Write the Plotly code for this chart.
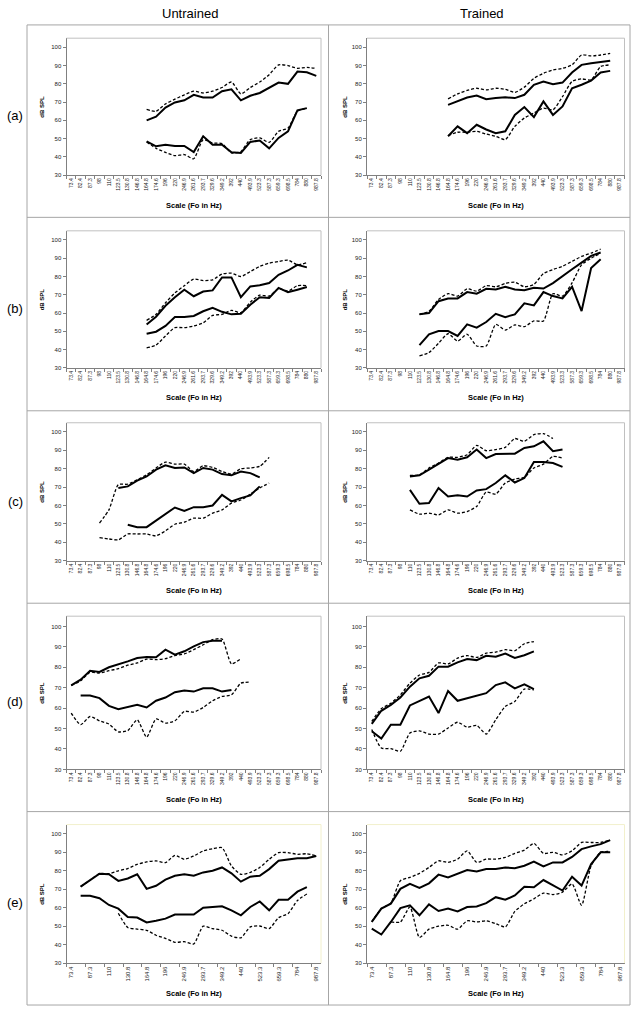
import plotly.graph_objects as go

FREQS = ["73.4", "82.4", "87.3", "98", "110", "123.5", "130.8", "146.8", "164.8",
         "174.6", "196", "220", "246.9", "261.6", "293.7", "329.6", "349.2", "392",
         "440", "493.9", "523.3", "587.3", "659.3", "698.5", "784", "880", "987.8"]

# each series: (first frequency sung, dB SPL values from there on)
# (a)
a_u_hi_solid = ("164.8", [60, 62, 67, 69.8, 71, 74, 72.5, 72.5, 76, 77, 71, 73.5, 75, 78, 80.7, 80, 86.7, 86.3, 84.4])
a_u_hi_dash = ("164.8", [66, 65, 69, 71.6, 74, 76, 75, 76, 78, 81, 74.5, 78, 81, 85, 90.4, 90, 88.5, 89, 88.5])
a_u_lo_solid = ("164.8", [48.5, 45.8, 46.7, 46, 46, 42.7, 51.3, 46.7, 46.7, 42.5, 42.2, 48.2, 49, 44.7, 50.4, 54, 65.5, 66.7])
a_u_lo_dash = ("164.8", [48.2, 44.7, 42.5, 40.7, 41.3, 39, 49.5, 47.6, 47.3, 42.2, 43, 49.5, 50.4, 48, 54, 55.8, 65, 66.7])
a_t_hi_solid = ("164.8", [68.5, 70.4, 72.5, 73.6, 71.6, 72.2, 72.7, 72.2, 74, 79.5, 81.3, 79.8, 80.7, 86.2, 90.4, 91.3, 92.2, 92.7])
a_t_hi_dash = ("164.8", [71.8, 74.5, 76.4, 77.6, 76.7, 77.6, 77, 75.3, 78.2, 83, 85.8, 87.6, 88.5, 90.4, 95.8, 95.3, 95.8, 96.7])
a_t_lo_solid = ("164.8", [51.3, 56.7, 53, 57.6, 55, 53, 54, 63, 67.3, 61.8, 70.4, 63, 67.6, 77.6, 79.5, 81.8, 86.2, 87.1])
a_t_lo_dash = ("164.8", [51.6, 53.5, 53.5, 54, 52.5, 51.3, 49.5, 56.7, 61.3, 64, 66.7, 65.8, 73, 81.3, 82.7, 82.2, 89.5, 90.4])
# (b)
b_u_hi_solid = ("164.8", [53.8, 58, 64, 68.7, 72.8, 69.2, 71.8, 72.4, 79.5, 79.5, 68.7, 74.6, 75.2, 76.4, 80.9, 83.3, 86.4, 85])
b_u_hi_dash = ("164.8", [56, 59.3, 65.6, 71, 75, 78.6, 77.8, 78.2, 81.4, 81.8, 80, 82.7, 85.5, 87.3, 88.2, 89, 86.4, 87.6])
b_u_lo_solid = ("164.8", [48.7, 49.8, 53, 57.8, 57.8, 58.4, 61, 62.9, 60.7, 59.3, 59.6, 64.6, 68.7, 68.3, 73.8, 71.4, 72.8, 74.3])
b_u_lo_dash = ("164.8", [41, 42.5, 47.5, 52, 52, 52.9, 54.7, 58.7, 59.3, 61.5, 60.2, 66, 69.8, 69.3, 73.3, 72, 75, 75])
b_t_hi_solid = ("123.5", [59.3, 60, 66.5, 68, 68, 71.5, 70.6, 73.3, 72.9, 74.4, 72.9, 72.5, 73.8, 73.4, 76.4, 80.4, 84, 87.6, 91.3, 93.1])
b_t_hi_dash = ("123.5", [59.3, 61, 67.4, 70.6, 69.3, 73.3, 72, 75, 74.4, 76.2, 76.9, 74.4, 75.7, 81.6, 83.8, 85.6, 88.3, 91, 92.8, 95])
b_t_lo_solid = ("123.5", [42.5, 48.4, 50.2, 50.2, 47.5, 53.8, 52, 55.1, 59.6, 57.8, 59.3, 65.3, 64.2, 71.5, 69.3, 68, 74.4, 61.1, 84.6, 89.4])
b_t_lo_dash = ("123.5", [36.6, 38.4, 43.5, 48.7, 44.7, 48.4, 42, 42, 53.8, 50.7, 53.5, 52.6, 55.7, 55.7, 70.6, 69.3, 76.5, 86.4, 90, 92.7])
# (c)
c_u_hi_solid = ("123.5", [69.5, 70.4, 73.5, 75.8, 79.5, 81.8, 80.4, 80.7, 77.6, 80.4, 79.5, 77.1, 76.4, 78.5, 77.6, 75.3])
c_u_hi_dash = ("98", [50.4, 57.6, 71.3, 71.6, 74, 76.7, 80.4, 83.6, 82.5, 82.5, 78.5, 81.6, 80.7, 78.5, 77.1, 80, 80.4, 81.3, 86.2])
c_u_lo_solid = ("130.8", [49.5, 48.2, 48.2, 51.8, 55.3, 58.9, 57.1, 59.1, 59.1, 60, 65.8, 62.2, 64, 65.5, 70.4])
c_u_lo_dash = ("98", [42.5, 41.8, 41.3, 44.5, 44.5, 44.5, 43.5, 46.2, 49.8, 50.9, 53.1, 53.1, 55.8, 57.6, 61.3, 63, 66.2, 69.5, 72.2])
c_t_hi_solid = ("110", [75.8, 76.4, 79.5, 82.5, 85.8, 84.9, 86.2, 90.4, 85.8, 88, 88, 88.2, 91.3, 92.2, 94.9, 89.5, 90.4])
c_t_hi_dash = ("110", [76.4, 76.7, 80.4, 83.1, 86.2, 86.2, 87.6, 92.7, 89.8, 90.4, 91.6, 96.4, 94.9, 98.5, 99.1, 96.4])
c_t_lo_solid = ("110", [68.5, 60.9, 61.3, 69.5, 64.9, 65.5, 64.9, 68.2, 68.9, 72.2, 76.4, 72.5, 74.9, 83.6, 83.6, 83.1, 81])
c_t_lo_dash = ("110", [57.6, 55.3, 55.8, 54.9, 57.6, 55.8, 56.7, 59.5, 67.3, 66.2, 72.2, 74.4, 75.3, 80.4, 82.5, 86.7, 85.8])
# (d)
d_u_hi_solid = ("73.4", [71.1, 73.9, 78.3, 77.7, 80, 81.3, 82.9, 84.5, 85, 84.9, 88.6, 86.2, 87.8, 90.2, 92.3, 93, 93])
d_u_hi_dash = ("73.4", [71.1, 73.4, 77.5, 77.2, 78.3, 79.3, 81, 82.1, 84, 83.7, 84.2, 85.7, 86.5, 88.6, 91, 93.5, 93.8, 81.7, 84.2])
d_u_lo_solid = ("82.4", [66.2, 66.2, 64.9, 61.1, 59.5, 60.5, 61.6, 60.3, 63.6, 65.2, 67.8, 68.6, 68.1, 69.7, 69.7, 68.1, 68.9])
d_u_lo_dash = ("73.4", [57.6, 51.9, 55.9, 53.8, 52.2, 48.4, 49, 54.3, 45.8, 54.7, 52.7, 53.8, 58.4, 58.1, 60.3, 63.6, 65.7, 66.5, 72.2, 72.7])
d_t_hi_solid = ("73.4", [52.3, 58.7, 61.6, 65.2, 70.5, 74.6, 75.8, 80.3, 80.3, 82.4, 84, 83.5, 85.6, 85.2, 86.7, 84.6, 85.9, 87.8])
d_t_hi_dash = ("73.4", [53.5, 59.7, 62.4, 66.5, 72.2, 76.2, 77.5, 82.1, 81.6, 84.5, 85.7, 84.8, 86.9, 87.4, 88.6, 88.1, 91.5, 92.6])
d_t_lo_solid = ("73.4", [48.7, 45.1, 51.9, 51.9, 61.3, 63.6, 65.7, 57.6, 68.4, 63.6, 64.9, 66.2, 67.3, 71.3, 72.6, 69.7, 71.6, 69.3])
d_t_lo_dash = ("73.4", [49.5, 40.5, 40.2, 38.9, 47.8, 48.9, 47.3, 47.3, 50.3, 53.1, 50.7, 51.5, 47.3, 54.3, 60.8, 63.3, 69.3, 68.9])
# (e)
e_u_hi_solid = ("82.4", [71.4, 74.9, 78.4, 78.1, 74.5, 75.8, 78.1, 70.2, 71.9, 75.2, 77.3, 78.1, 77.3, 79.1, 80, 81.8, 78.6, 74.1, 76.8, 77.3, 80.9, 85.4, 86.2, 86.8, 86.8, 88])
e_u_hi_dash = ("82.4", [71.4, 74.9, 78.4, 78.4, 80, 81.2, 83.5, 84.8, 85.3, 84.4, 88.3, 86.2, 88, 90.7, 91.9, 92.5, 82.6, 78.1, 79.1, 81.8, 86.2, 89.8, 89.8, 88.9, 89.2, 88])
e_u_lo_solid = ("82.4", [66.5, 66.5, 65.1, 61.5, 59.5, 55, 54.7, 52, 52.9, 54.1, 56.3, 56.3, 56.3, 60, 60.4, 60.8, 58.6, 55.9, 60.4, 63.4, 58.6, 64.3, 64.3, 68.7, 71.1])
e_u_lo_dash = ("123.5", [57, 49.3, 48.4, 47.8, 45.1, 43.4, 41.3, 41.6, 40.4, 50, 48.7, 47.8, 44.6, 43.7, 49.6, 50.1, 48.7, 54.6, 56.8, 63.9, 67.4])
e_t_hi_solid = ("73.4", [52.3, 59.5, 62.2, 70.2, 72.9, 70.7, 73.2, 77.9, 76.4, 78.2, 80.4, 79.6, 80.9, 80.9, 81.8, 81.4, 82.7, 84.9, 82.3, 84.5, 84.5, 87.5, 91.7, 93.2, 94.4, 96.6])
e_t_hi_dash = ("73.4", [52.3, 59.5, 62.5, 74.6, 76.4, 78.6, 81.8, 85.4, 84.5, 86.3, 90.8, 84.5, 86.3, 86.3, 87.2, 89.4, 91.2, 94.8, 89.4, 90, 88.6, 90.8, 95.3, 95.3, 95.3, 96.6])
e_t_lo_solid = ("73.4", [48.7, 45.5, 52.3, 59.8, 61.3, 55.9, 61.8, 58.2, 59.5, 58, 60.4, 60.7, 62.5, 65.7, 64.3, 66.6, 71.4, 71.1, 75, 72, 69.3, 76.8, 72, 83.6, 90, 90])
e_t_lo_dash = ("87.3", [52.3, 52.3, 60.4, 43.9, 48.4, 50, 50.5, 48.4, 52.9, 52.3, 52.9, 51.4, 49.6, 58, 62.1, 64.8, 67.9, 67.1, 68.4, 72.9, 61.3, 82.7, 90, 90.4])

ROW_LABELS = ["(a)", "(b)", "(c)", "(d)", "(e)"]
COL_TITLES = ["Untrained", "Trained"]

PANELS = [
    [(a_u_hi_dash, a_u_lo_dash, a_u_hi_solid, a_u_lo_solid), (a_t_hi_dash, a_t_lo_dash, a_t_hi_solid, a_t_lo_solid)],
    [(b_u_hi_dash, b_u_lo_dash, b_u_hi_solid, b_u_lo_solid), (b_t_hi_dash, b_t_lo_dash, b_t_hi_solid, b_t_lo_solid)],
    [(c_u_hi_dash, c_u_lo_dash, c_u_hi_solid, c_u_lo_solid), (c_t_hi_dash, c_t_lo_dash, c_t_hi_solid, c_t_lo_solid)],
    [(d_u_hi_dash, d_u_lo_dash, d_u_hi_solid, d_u_lo_solid), (d_t_hi_dash, d_t_lo_dash, d_t_hi_solid, d_t_lo_solid)],
    [(e_u_hi_dash, e_u_lo_dash, e_u_hi_solid, e_u_lo_solid), (e_t_hi_dash, e_t_lo_dash, e_t_hi_solid, e_t_lo_solid)],
]

W, H = 639, 1018
FONT = "Liberation Sans, Arial, sans-serif"
COL_X = [(66.5, 321), (367, 624.5)]
ROW_Y = [(38.3, 175.7), (231.5, 369), (424, 562.3), (618, 771.7), (827, 966)]
GRID_X = [27, 328.5, 630]
GRID_Y = [25, 218, 412, 605, 814, 1008]


def fx(px):
    return px / W


def fy(py):
    return 1 - py / H


def label(text, px, py, size, angle=0):
    return dict(text=text, x=fx(px), y=fy(py), xref="paper", yref="paper", showarrow=False,
                xanchor="center", yanchor="middle", textangle=angle, borderpad=0,
                font=dict(size=size, color="black", family=FONT))


fig = go.Figure()
layout = {}
shapes = []
annotations = []

for r in range(5):
    for c in range(2):
        n = r * 2 + c + 1
        xs = "" if n == 1 else str(n)
        x0, x1 = COL_X[c]
        y0, y1 = ROW_Y[r]
        for k, (start, vals) in enumerate(PANELS[r][c]):
            i = FREQS.index(start)
            dashed = k < 2
            line = dict(color="black", width=1.3, dash="3px,2px", shape="spline", smoothing=0.6) if dashed \
                else dict(color="black", width=2)
            fig.add_trace(go.Scatter(x=FREQS[i:i + len(vals)], y=vals, mode="lines", line=line,
                                     xaxis="x" + xs, yaxis="y" + xs, showlegend=False, hoverinfo="skip"))
        xa = dict(domain=[fx(x0), fx(x1)], anchor="y" + xs, type="category",
                  categoryorder="array", categoryarray=FREQS, range=[-0.5, 26.5],
                  tickangle=-90, tickfont=dict(size=6 if r == 4 else 5, color="#222", family=FONT),
                  ticks="outside", ticklen=3, tickcolor="#808080", tickson="boundaries",
                  showline=True, linecolor="#808080", linewidth=1, showgrid=False, zeroline=False,
                  fixedrange=True)
        if r == 4:
            xa.update(tickmode="linear", tick0=0, dtick=2)
        ya = dict(domain=[fy(y1), fy(y0)], anchor="x" + xs, range=[30, 105],
                  tickvals=[30, 40, 50, 60, 70, 80, 90, 100],
                  tickfont=dict(size=6, color="#222", family=FONT),
                  ticks="outside", ticklen=3, tickcolor="#808080",
                  showline=True, linecolor="#808080", linewidth=1, showgrid=False, zeroline=False)
        layout["xaxis" + xs] = xa
        layout["yaxis" + xs] = ya
        # plot-area frame (top and right sides)
        border = "#f2f0cc" if r == 4 else "#c0c0c0"
        shapes.append(dict(type="line", xref="paper", yref="paper", x0=fx(x0), x1=fx(x1),
                           y0=fy(y0), y1=fy(y0), line=dict(color=border, width=1)))
        shapes.append(dict(type="line", xref="paper", yref="paper", x0=fx(x1), x1=fx(x1),
                           y0=fy(y0), y1=fy(y1), line=dict(color=border, width=1)))
        annotations.append(label("<b>dB SPL</b>", 42 if c == 0 else 345, (y0 + y1) / 2, 6, -90))
        annotations.append(label("<b>Scale (Fo in Hz)</b>", (x0 + x1) / 2, y1 + 30, 7.5))

for r, lab in enumerate(ROW_LABELS):
    annotations.append(label(lab, 15, (GRID_Y[r] + GRID_Y[r + 1]) / 2 - 6, 13))
for c, t in enumerate(COL_TITLES):
    annotations.append(label(t, 190 if c == 0 else 482, 14, 13))

for gx in GRID_X:
    shapes.append(dict(type="line", xref="paper", yref="paper", x0=fx(gx), x1=fx(gx),
                       y0=fy(GRID_Y[0]), y1=fy(GRID_Y[-1]), line=dict(color="#a6a6a6", width=1)))
for gy in GRID_Y:
    shapes.append(dict(type="line", xref="paper", yref="paper", x0=fx(GRID_X[0]), x1=fx(GRID_X[-1]),
                       y0=fy(gy), y1=fy(gy), line=dict(color="#a6a6a6", width=1)))

fig.update_layout(**layout)
fig.update_layout(width=W, height=H, autosize=False, margin=dict(l=0, r=0, t=0, b=0),
                  paper_bgcolor="white", plot_bgcolor="white", shapes=shapes,
                  annotations=annotations, font=dict(family=FONT))
# drop the page's default body margin so the figure fills the window exactly
fig.write_html("out.html", config={"displayModeBar": False, "staticPlot": True},
               post_script="document.body.style.margin='0px';")
